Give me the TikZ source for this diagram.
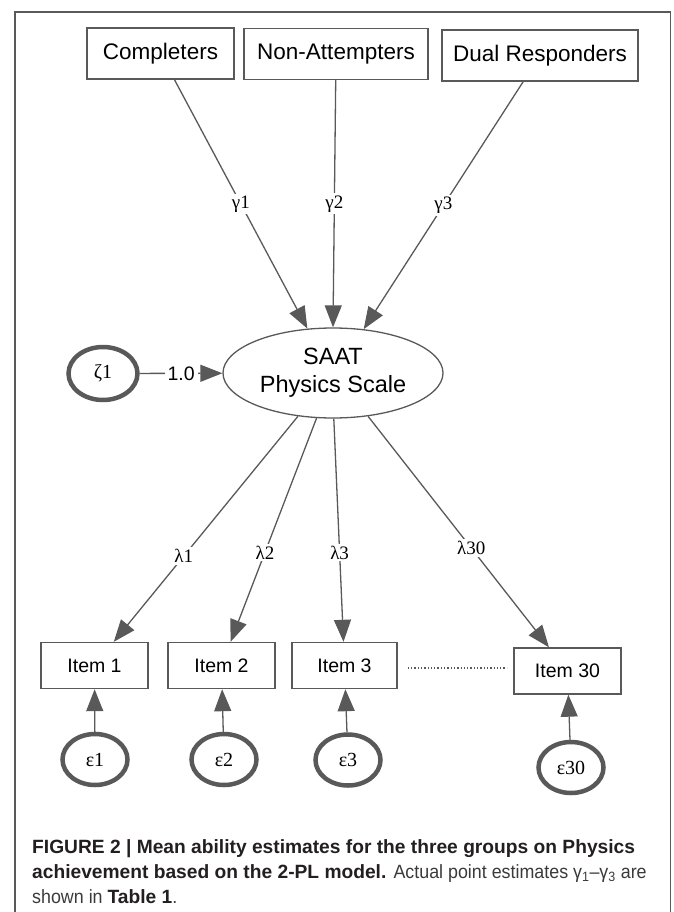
\documentclass[tikz,border=0pt]{standalone}
\usepackage{fontspec}
\setmainfont{Liberation Sans}
\newfontfamily\grkfont{Liberation Serif}
\newfontfamily\capreg[FakeStretch=0.93]{Liberation Sans}
\usetikzlibrary{arrows.meta,shapes.geometric}
\definecolor{linegray}{HTML}{595959}
\definecolor{captext}{HTML}{231F20}
\definecolor{capgray}{HTML}{3A3A3A}
\tikzset{
  obsbox/.style={draw=linegray, line width=1.4pt, minimum height=51pt, inner sep=0pt,
    text height=16pt, text depth=4.5pt, font=\fontsize{22.5}{26}\selectfont},
  itembox/.style={draw=linegray, line width=1.4pt, minimum width=107pt, minimum height=46pt,
    inner sep=0pt, font=\fontsize{19.5}{24}\selectfont},
  errcirc/.style={ellipse, draw=linegray, line width=4.5pt, minimum width=65pt, minimum height=51pt,
    inner sep=0pt, font=\grkfont\fontsize{20}{24}\selectfont},
  link/.style={draw=linegray, line width=1.3pt, -{Triangle[length=22pt,width=17pt]}},
  coef/.style={fill=white, inner sep=2pt, font=\grkfont\fontsize{19}{22}\selectfont},
  capline/.style={anchor=base west, inner sep=0pt, text=captext, font=\fontsize{19.2}{25}\selectfont},
}
\begin{document}
\begin{tikzpicture}[x=1pt,y=-1pt]
    \useasboundingbox (0,0) rectangle (673,912);
    % frame
    \draw[linegray, line width=1.3pt] (15,912) -- (15,12) -- (670.5,12) -- (670.5,912);
    % groups
    \node[obsbox, minimum width=147pt] (comp) at (160.5,53.5) {Completers};
    \node[obsbox, minimum width=184pt] (nonatt) at (336,54) {Non-Attempters};
    \node[obsbox, minimum width=196pt] (dual) at (540,55.5) {Dual Responders};
    % latent trait
    \node[ellipse, draw=linegray, line width=1.3pt, minimum width=220pt, minimum height=90pt,
      inner sep=0pt, align=center, font=\fontsize{23.5}{28}\selectfont] (saat) at (333,373) {SAAT\\Physics Scale};
    \node[errcirc, minimum width=69pt, minimum height=53pt] (zeta) at (103,373.5) {ζ1};
    % items
    \node[itembox] (item1) at (94.5,665.5) {Item 1};
    \node[itembox] (item2) at (221.5,665.5) {Item 2};
    \node[itembox, minimum width=105pt] (item3) at (344.5,665.5) {Item 3};
    \node[itembox] (item30) at (567.5,671) {Item 30};
    \node[errcirc] (eps1) at (95,759.5) {ε1};
    \node[errcirc] (eps2) at (224,759.5) {ε2};
    \node[errcirc] (eps3) at (348,760) {ε3};
    \node[errcirc] (eps30) at (571,767.5) {ε30};
    % paths
    \draw[link] (comp) -- node[coef] {γ1} (saat.120);
    \draw[link] (nonatt) -- node[coef] {γ2} (saat.90);
    \draw[link] (dual) -- node[coef] {γ3} (saat.55);
    \draw[link] (zeta) -- node[fill=white, inner sep=3pt, font=\fontsize{19.5}{22}\selectfont] {1.0} (saat);
    \draw[link] (saat.-129) -- node[coef, pos=0.62] {λ1} (item1);
    \draw[link] (saat.-110) -- node[coef, pos=0.6] {λ2} (item2);
    \draw[link] (saat.-89) -- node[coef, pos=0.6] {λ3} (item3);
    \draw[link] (saat.-51) -- node[coef, pos=0.57] {λ30} (item30);
    \draw[link] (eps1) -- (item1);
    \draw[link] (eps2) -- (item2);
    \draw[link] (eps3) -- (item3);
    \draw[link] (eps30) -- (item30);
    \draw[linegray, line width=1.3pt, dotted] (item3.east) ++(10,2.5) -- ++(99,0);
    % caption
    \node[capline] (cap1) at (32,853) {\bfseries FIGURE 2 | Mean ability estimates for the three groups on Physics};
    \node[capline] (cap2) at (32,878) {\textbf{achievement based on the 2-PL model.} {\capreg\color{capgray} Actual point estimates γ\textsubscript{1}–γ\textsubscript{3} are}};
    \node[capline] (cap3) at (32,903) {{\capreg\color{capgray} shown in }\textbf{Table 1}{\capreg\color{capgray} .}};
\end{tikzpicture}
\end{document}
